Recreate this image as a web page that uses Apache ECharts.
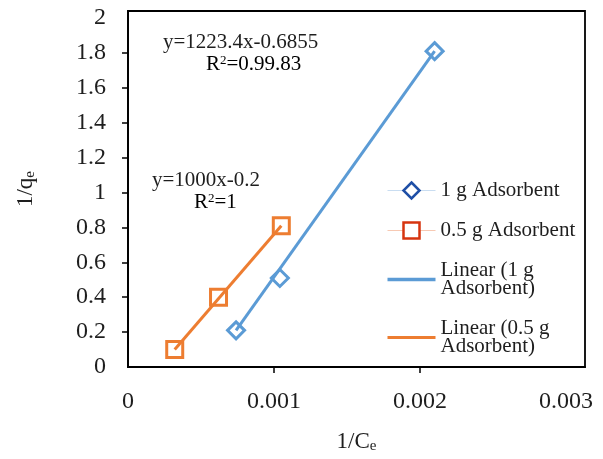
<!DOCTYPE html>
<html>
<head>
<meta charset="utf-8">
<script src="https://cdn.jsdelivr.net/npm/echarts@6/dist/echarts.min.js"></script>
<style>
html,body{margin:0;padding:0;background:#fff;}
#main{width:603px;height:459px;}
</style>
</head>
<body>
<div id="main"></div>
<script>
// 1/qe vs 1/Ce 线性拟合图
var FONT = '"Liberation Serif","Times New Roman",serif';
var TXT = '#1e1e1e';

var data1g = [[0.00074, 0.21], [0.00104, 0.51], [0.0021, 1.81]];
var data05g = [[0.00032, 0.10], [0.00062, 0.40], [0.00105, 0.81]];
var trend1g = [[0.00074, 0.21], [0.0021, 1.81]];
var trend05g = [[0.00032, 0.10], [0.00105, 0.81]];
var xTickLabels = [0, 0.001, 0.002, 0.003];
var xTicks = [0.001, 0.002];
var yTickLabels = [0, 0.2, 0.4, 0.6, 0.8, 1, 1.2, 1.4, 1.6, 1.8, 2];
var yTicks = [0.2, 0.4, 0.6, 0.8, 1, 1.2, 1.4, 1.6, 1.8];
var names = ['1 g Adsorbent', '0.5 g Adsorbent', 'Linear (1 g\nAdsorbent)', 'Linear (0.5 g\nAdsorbent)'];

var subRich = {
    a: {fontFamily: FONT, fontSize: 23, color: TXT},
    b: {fontFamily: FONT, fontSize: 15, color: TXT, verticalAlign: 'bottom', padding: [10, 0, 0, 0]}
};
var supRich = {
    a: {fontFamily: FONT, fontSize: 21, color: TXT},
    s: {fontFamily: FONT, fontSize: 13, color: TXT, verticalAlign: 'top', padding: [0, 0, 6, 0]}
};

var option = {
    animation: false,
    grid: {
        left: 128, right: 18, top: 11, bottom: 92,
        show: true, borderColor: '#000', borderWidth: 1.8
    },
    xAxis: {
        type: 'value',
        min: 0,
        max: 0.00313,
        name: '{a|1/C}{b|e}',
        nameLocation: 'middle',
        nameGap: 62,
        nameTextStyle: {rich: subRich},
        axisLine: {show: true, lineStyle: {color: '#000', width: 1.8}},
        axisTick: {show: true, customValues: xTicks, length: 6, lineStyle: {color: '#000', width: 1.5}},
        axisLabel: {customValues: xTickLabels, margin: 23, fontFamily: FONT, fontSize: 24, color: TXT},
        splitLine: {show: false}
    },
    yAxis: {
        type: 'value',
        min: 0,
        max: 2.04,
        name: '{a|1/q}{b|e}',
        nameLocation: 'middle',
        nameRotate: 90,
        nameGap: 90,
        nameTextStyle: {rich: subRich},
        axisLine: {show: true, lineStyle: {color: '#000', width: 1.8}},
        axisTick: {show: true, customValues: yTicks, length: 6, lineStyle: {color: '#000', width: 1.5}},
        axisLabel: {customValues: yTickLabels, margin: 22, fontFamily: FONT, fontSize: 24, color: TXT},
        splitLine: {show: false}
    },
    legend: {
        orient: 'vertical',
        left: 382,
        top: 175,
        itemWidth: 48,
        itemHeight: 20,
        itemGap: 19,
        textStyle: {fontFamily: FONT, fontSize: 21, color: TXT, lineHeight: 18},
        data: [
            {name: names[0], itemStyle: {color: '#fff', borderColor: '#1f4fa6', borderWidth: 2.5},
                lineStyle: {color: '#c9ddf1', width: 1, opacity: 1}},
            {name: names[1], itemStyle: {color: '#fff', borderColor: '#d6340f', borderWidth: 2.5},
                lineStyle: {color: '#f7c9b3', width: 1, opacity: 1}},
            {name: names[2], icon: 'path://M0,0H48V3.5H0Z', itemStyle: {color: '#5b9bd5', borderWidth: 0}},
            {name: names[3], icon: 'path://M0,0H48V2.8H0Z', itemStyle: {color: '#ed7d31', borderWidth: 0}}
        ]
    },
    graphic: [
        {type: 'text', left: 163, top: 32, style: {text: 'y=1223.4x-0.6855', font: '21px ' + FONT, fill: TXT}},
        {type: 'text', left: 206, top: 54, style: {text: '{a|R}{s|2}{a|=0.99.83}', rich: supRich}},
        {type: 'text', left: 152, top: 170, style: {text: 'y=1000x-0.2', font: '21px ' + FONT, fill: TXT}},
        {type: 'text', left: 194, top: 192, style: {text: '{a|R}{s|2}{a|=1}', rich: supRich}}
    ],
    series: [
        {
            name: names[0], type: 'line', data: data1g, z: 5,
            symbol: 'diamond', symbolSize: 17,
            lineStyle: {opacity: 0},
            itemStyle: {color: 'rgba(255,255,255,0)', borderColor: '#5b9bd5', borderWidth: 3}
        },
        {
            name: names[1], type: 'line', data: data05g, z: 5,
            symbol: 'rect', symbolSize: 16,
            lineStyle: {opacity: 0},
            itemStyle: {color: 'rgba(255,255,255,0)', borderColor: '#ed7d31', borderWidth: 3}
        },
        {
            name: names[2], type: 'line', data: trend1g, z: 3,
            symbol: 'none',
            lineStyle: {color: '#5b9bd5', width: 3},
            itemStyle: {color: '#5b9bd5'}
        },
        {
            name: names[3], type: 'line', data: trend05g, z: 3,
            symbol: 'none',
            lineStyle: {color: '#ed7d31', width: 3},
            itemStyle: {color: '#ed7d31'}
        }
    ]
};

var chart = echarts.init(document.getElementById('main'));
chart.setOption(option);
</script>
</body>
</html>
